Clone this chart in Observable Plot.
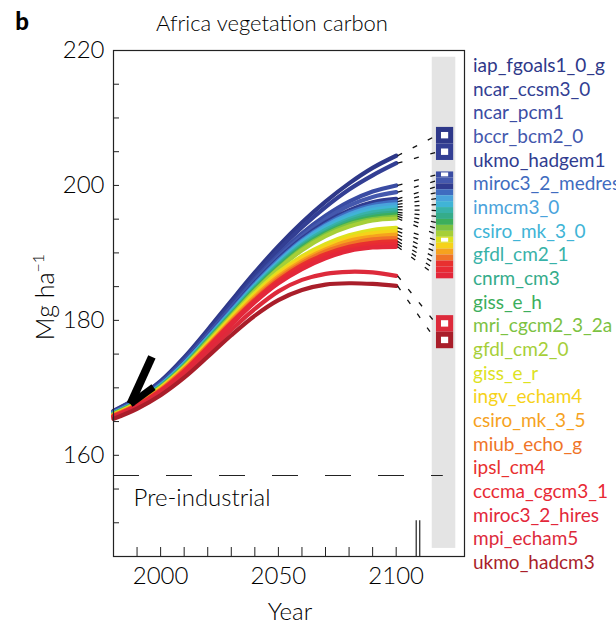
<!DOCTYPE html>
<html><head><meta charset="utf-8">
<script src="https://cdn.jsdelivr.net/npm/d3@7"></script>
<script src="https://cdn.jsdelivr.net/npm/@observablehq/plot@0.6"></script>
<style>
body{margin:0;width:616px;height:625px;overflow:hidden;position:relative;font-family:Lato,"Open Sans",sans-serif;font-weight:300;background:#fff}
.t{position:absolute;white-space:nowrap;color:#000;line-height:1}
#chart{position:absolute;left:0;top:0}
svg text{font-weight:300}
</style></head><body>
<div id="chart"></div>
<script>
// ---------- data ----------
const years = [1980,1990,2000,2010,2020,2030,2040,2050,2060,2070,2080,2090,2100];
const models = ["iap_fgoals1_0_g","ncar_ccsm3_0","ncar_pcm1","bccr_bcm2_0","ukmo_hadgem1","miroc3_2_medres",
  "inmcm3_0","csiro_mk_3_0","gfdl_cm2_1","cnrm_cm3","giss_e_h","mri_cgcm2_3_2a","gfdl_cm2_0","giss_e_r",
  "ingv_echam4","csiro_mk_3_5","miub_echo_g","ipsl_cm4","cccma_cgcm3_1","miroc3_2_hires","mpi_echam5","ukmo_hadcm3"];
const colors = ["#2e3889","#333f94","#3a4ca3","#4458ad","#303c90","#3f6cc0",
  "#4aa3dc","#40b4d6","#38b2a8","#35ac8a","#3cae5c","#7cc242","#a6cf38","#dde21f",
  "#f6d21a","#f6a21e","#f07427","#e8302f","#e82a34","#e3273a","#dd2a3b","#a91e2a"];

const iap_fgoals1_0_g = [166.6,168.5,171.0,174.5,178.6,182.9,187.1,191.0,194.5,197.6,200.3,202.6,204.4];
const ncar_ccsm3_0    = [166.5,168.4,170.9,174.3,178.3,182.5,186.6,190.4,193.8,196.8,199.4,201.5,203.3];
const ncar_pcm1       = [166.4,168.2,170.7,174.0,177.9,182.0,186.1,189.7,192.9,195.5,197.6,199.1,200.0];
const bccr_bcm2_0     = [166.4,168.2,170.6,173.9,177.8,181.8,185.8,189.4,192.5,195.0,197.0,198.3,199.0];
const ukmo_hadgem1    = [166.3,168.1,170.5,173.8,177.6,181.6,185.6,189.1,192.1,194.5,196.3,197.5,198.0];
const miroc3_2_medres = [166.3,168.1,170.5,173.7,177.5,181.5,185.4,188.9,191.9,194.2,196.0,197.1,197.6];
const inmcm3_0        = [166.3,168.0,170.4,173.6,177.4,181.3,185.2,188.7,191.7,194.0,195.7,196.8,197.2];
const csiro_mk_3_0    = [166.2,167.9,170.3,173.5,177.3,181.2,185.1,188.5,191.5,193.7,195.4,196.4,196.8];
const gfdl_cm2_1      = [166.2,167.9,170.3,173.4,177.2,181.1,184.9,188.3,191.2,193.4,195.0,196.0,196.4];
const cnrm_cm3        = [166.2,167.9,170.2,173.3,177.1,180.9,184.7,188.1,191.0,193.1,194.7,195.6,196.0];
const giss_e_h        = [166.1,167.8,170.1,173.2,177.0,180.8,184.6,187.9,190.8,192.9,194.4,195.3,195.7];
const mri_cgcm2_3_2a  = [166.1,167.8,170.1,173.2,176.9,180.7,184.4,187.7,190.6,192.7,194.2,195.0,195.4];
const gfdl_cm2_0      = [166.1,167.7,170.0,173.1,176.8,180.6,184.3,187.6,190.4,192.5,193.9,194.8,195.1];
const giss_e_r        = [166.0,167.7,170.0,173.0,176.6,180.4,184.0,187.1,189.5,191.3,192.6,193.4,193.7];
const ingv_echam4     = [166.0,167.6,169.9,172.9,176.5,180.2,183.7,186.8,189.2,190.9,192.2,192.9,193.2];
const csiro_mk_3_5    = [165.9,167.5,169.8,172.8,176.3,180.0,183.5,186.5,188.8,190.5,191.8,192.4,192.7];
const miub_echo_g     = [165.9,167.5,169.7,172.7,176.2,179.8,183.2,186.2,188.5,190.2,191.3,192.0,192.2];
const ipsl_cm4        = [165.8,167.4,169.6,172.5,176.0,179.6,183.0,185.9,188.2,189.8,190.9,191.5,191.7];
const cccma_cgcm3_1   = [165.8,167.3,169.5,172.4,175.9,179.5,182.8,185.7,187.9,189.5,190.5,191.1,191.3];
const miroc3_2_hires  = [165.7,167.2,169.4,172.3,175.8,179.4,182.7,185.5,187.6,189.2,190.3,190.8,190.9];
const mpi_echam5      = [165.6,167.1,169.2,171.9,175.2,178.6,181.7,184.3,186.0,186.9,187.2,187.1,186.6];
const ukmo_hadcm3     = [165.4,166.9,168.9,171.5,174.6,177.8,180.7,183.0,184.5,185.3,185.5,185.4,185.1];

const seriesValues = [iap_fgoals1_0_g,ncar_ccsm3_0,ncar_pcm1,bccr_bcm2_0,ukmo_hadgem1,miroc3_2_medres,
  inmcm3_0,csiro_mk_3_0,gfdl_cm2_1,cnrm_cm3,giss_e_h,mri_cgcm2_3_2a,gfdl_cm2_0,giss_e_r,
  ingv_echam4,csiro_mk_3_5,miub_echo_g,ipsl_cm4,cccma_cgcm3_1,miroc3_2_hires,mpi_echam5,ukmo_hadcm3];

// key (grey bar) groups: 0 = top boxes, 1 = column, 2 = bottom boxes
const keyGroup = [0,0,1,1,1,1,1,1,1,1,1,1,1,1,1,1,1,1,1,1,2,2];
const keyGroupTop = [208.6, 202.0, 180.7];
const keyGroupStep = [2.45, 0.88, 2.45];
const keyMarked = ["iap_fgoals1_0_g","ncar_ccsm3_0","ncar_pcm1","giss_e_r","mpi_echam5","ukmo_hadcm3"];
const keyBar = {x1: 2115.3, x2: 2125.3, y1: 146.2, y2: 219};
const keyX = [2117.1, 2124.4];
const connectorX = [2100.6, 2117.0];

const yTicksMajor = [160,180,200,220];
const yTicksMinor = d3.range(145, 221, 5);
const xTicksMajor = [2000,2050,2100];
const xTicksMinor = d3.range(1990, 2101, 10);
const preIndustrial = 157;
const preLabel = {x: 1988.5, y: 153.6, text: "Pre-industrial"};
const markerYears = [2108.5, 2110];
const markerRange = [145, 150.3];
// arrow annotation: shaft top, tip, barb end
const arrowPts = {top: [1996.3,174.6], tip: [1987.2,167.6], barb: [1997.0,170.1]};

// ---------- build ----------
const table = [];
models.forEach((m,i)=>years.forEach((yr,j)=>table.push({model:m, year:yr, value:seriesValues[i][j]})));
const keyCount = [0,0,0];
const keys = models.map((m,i)=>{
  const g = keyGroup[i]; const k = keyCount[g]++;
  const step = keyGroupStep[g];
  const top = keyGroupTop[g] - k*step;
  const bot = top - step;
  const pad = g === 1 ? 0.15 : 0.75;
  return {model:m, top, bot, itop: top - pad, ibot: bot + pad, mid:(top+bot)/2,
          end: seriesValues[i][seriesValues[i].length-1], marked: keyMarked.includes(m), g};
});

const fs = 24;
const plot = Plot.plot({
  width: 616, height: 625,
  marginLeft: 113, marginRight: 152, marginTop: 50, marginBottom: 69,
  x: {domain: [1980, 2129]},
  y: {domain: [145, 220]},
  color: {domain: models, range: colors},
  style: {fontFamily: "Lato, 'Open Sans', sans-serif", background: "white", color: "#000"},
  marks: [
    Plot.rect([keyBar], {x1:"x1", x2:"x2", y1:"y1", y2:"y2", fill:"#e4e4e4"}),
    Plot.ruleY([preIndustrial], {x1: 1980, x2: 2120, stroke:"#222", strokeWidth:1.1, strokeDasharray:"26,27"}),
    Plot.text([preLabel], {x:"x", y:"y", text:"text", textAnchor:"start", fontSize: fs, fill:"#000"}),
    Plot.ruleX(markerYears, {y1: markerRange[0], y2: markerRange[1], stroke:"#222", strokeWidth:1.2}),
    Plot.line(table, {x:"year", y:"value", z:"model", stroke:"model", strokeWidth:4.2, curve:"catmull-rom"}),
    Plot.link(keys, {x1: connectorX[0], x2: connectorX[1], y1:"end", y2:"mid", stroke:"#111", strokeWidth:1.3, strokeDasharray:"5,12"}),
    Plot.rect(keys, {x1: keyX[0], x2: keyX[1], y1:"bot", y2:"top", fill:"model"}),
    Plot.rect(keys.filter(d=>d.marked), {x1: keyX[0], x2: keyX[1], y1:"ibot", y2:"itop", fill:"white", insetLeft:5, insetRight:5}),
    Plot.link([arrowPts], {x1: d=>d.top[0], y1: d=>d.top[1], x2: d=>d.tip[0], y2: d=>d.tip[1], stroke:"black", strokeWidth:8, strokeLinecap:"butt"}),
    Plot.link([arrowPts], {x1: d=>d.tip[0], y1: d=>d.tip[1], x2: d=>d.barb[0], y2: d=>d.barb[1], stroke:"black", strokeWidth:7, strokeLinecap:"butt"}),
    Plot.frame({stroke:"#222", strokeWidth:1.2}),
    Plot.axisY(yTicksMinor, {tickSize: 6, dx: 6, text: null, stroke:"#222"}),
    Plot.axisY(yTicksMajor, {tickSize: 0, tickPadding: 9, fontSize: fs, label: null}),
    Plot.axisX(xTicksMinor, {tickSize: 9, dy: -9, text: null, stroke:"#222"}),
    Plot.axisX(xTicksMajor, {tickSize: 0, tickPadding: 10, fontSize: fs, label: null, tickFormat: d=>String(d)})
  ]
});
document.getElementById("chart").appendChild(plot);

// ---------- text outside plot ----------
function place(html, x, y, style, anchor){
  const d = document.createElement("div");
  d.className = "t"; d.innerHTML = html;
  d.style.left = x + "px"; d.style.top = y + "px";
  Object.assign(d.style, style||{});
  d.style.transform = anchor || "translate(-50%,-50%)";
  document.body.appendChild(d);
  return d;
}
place("b", 22, 21, {fontSize:"24px", fontWeight:"900"});
place("Africa vegetation carbon", 272, 23, {fontSize:"22px"});
place("Year", 290, 611, {fontSize:"24px"});
place("Mg ha<sup style='font-size:16px;vertical-align:10px'>−1</sup>", 43, 297, {fontSize:"25px"}, "translate(-50%,-50%) rotate(-90deg)");
models.forEach((m,i)=>place(m, 473, 64 + i*23.67, {fontSize:"19px", fontWeight:"400", color: colors[i]}, "translate(0,-50%)"));
</script>
</body></html>
